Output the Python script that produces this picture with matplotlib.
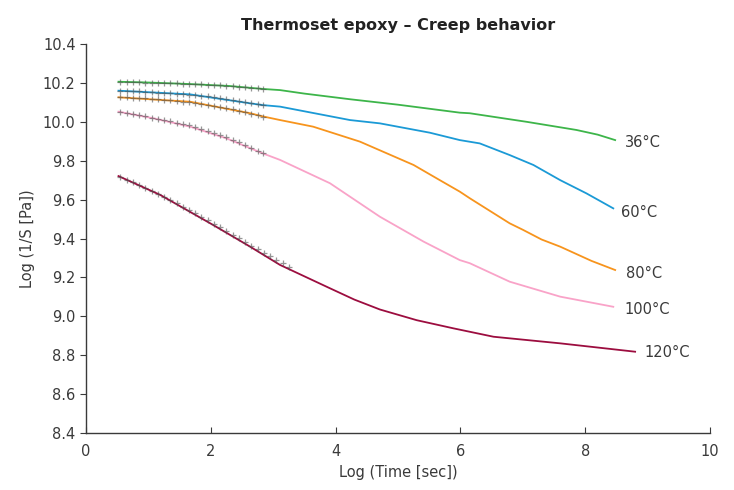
import matplotlib
matplotlib.use("Agg")
import matplotlib.pyplot as plt

plt.rcParams['font.family'] = ['DejaVu Sans']

title = "Thermoset epoxy – Creep behavior"
xlabel = "Log (Time [sec])"
ylabel = "Log (1/S [Pa])"
labels = ["36°C", "60°C", "80°C", "100°C", "120°C"]
colors = ["#3db54a", "#1b9ad6", "#f7941d", "#f9a3c8", "#9c0d3f"]

# fitted curves
x36 = [0.52, 1.0, 1.67, 2.3, 2.83, 3.11, 3.5, 4.23, 5.0, 5.99, 6.15, 7.06, 7.86, 8.2, 8.48]
y36 = [10.206, 10.202, 10.194, 10.184, 10.169, 10.163, 10.145, 10.116, 10.088, 10.047, 10.044, 10.000, 9.958, 9.934, 9.906]

x60 = [0.52, 1.67, 2.63, 2.83, 3.11, 4.23, 4.71, 5.51, 5.99, 6.31, 6.79, 7.17, 7.60, 8.02, 8.45]
y60 = [10.160, 10.141, 10.095, 10.086, 10.078, 10.009, 9.992, 9.944, 9.906, 9.889, 9.829, 9.778, 9.700, 9.632, 9.555]

x80 = [0.52, 1.67, 2.63, 2.83, 3.11, 3.64, 4.39, 5.25, 5.67, 5.99, 6.15, 6.79, 7.0, 7.3, 7.60, 8.1, 8.48]
y80 = [10.126, 10.103, 10.044, 10.028, 10.009, 9.975, 9.898, 9.778, 9.700, 9.641, 9.607, 9.478, 9.445, 9.395, 9.358, 9.285, 9.238]

x100 = [0.52, 1.08, 1.67, 2.25, 2.83, 3.11, 3.91, 4.71, 5.41, 5.99, 6.15, 6.79, 7.60, 8.45]
y100 = [10.052, 10.018, 9.975, 9.915, 9.838, 9.804, 9.684, 9.512, 9.384, 9.289, 9.273, 9.178, 9.101, 9.049]

x120 = [0.52, 1.19, 2.04, 2.63, 3.11, 3.91, 4.3, 4.71, 5.3, 5.89, 6.53, 7.60, 8.80]
y120 = [9.721, 9.624, 9.469, 9.358, 9.264, 9.144, 9.086, 9.035, 8.980, 8.938, 8.895, 8.861, 8.818]

# measured points
mx = [0.55, 0.65, 0.75, 0.85, 0.95, 1.05, 1.15, 1.25, 1.35, 1.45, 1.55, 1.65,
      1.75, 1.85, 1.95, 2.05, 2.15, 2.25, 2.35, 2.45, 2.55, 2.65, 2.75, 2.83]
m36 = [10.206, 10.205, 10.204, 10.203, 10.202, 10.201, 10.200, 10.199, 10.198, 10.197, 10.196, 10.195,
       10.193, 10.192, 10.190, 10.189, 10.187, 10.185, 10.183, 10.180, 10.178, 10.175, 10.172, 10.170]
m60 = [10.160, 10.159, 10.157, 10.156, 10.154, 10.152, 10.150, 10.148, 10.146, 10.144, 10.142, 10.140,
       10.137, 10.134, 10.131, 10.127, 10.123, 10.118, 10.113, 10.108, 10.102, 10.097, 10.091, 10.086]
m80 = [10.126, 10.125, 10.124, 10.122, 10.120, 10.118, 10.116, 10.113, 10.110, 10.107, 10.104, 10.100,
       10.096, 10.092, 10.087, 10.082, 10.076, 10.070, 10.064, 10.057, 10.050, 10.042, 10.034, 10.027]
m100 = [10.050, 10.045, 10.039, 10.034, 10.028, 10.022, 10.016, 10.010, 10.003, 9.996, 9.989, 9.981,
        9.972, 9.963, 9.953, 9.943, 9.932, 9.920, 9.907, 9.894, 9.880, 9.866, 9.852, 9.840]
mx120 = [0.55, 0.65, 0.75, 0.85, 0.95, 1.05, 1.15, 1.25, 1.35, 1.45, 1.55, 1.65, 1.75, 1.85,
         1.95, 2.05, 2.15, 2.25, 2.35, 2.45, 2.55, 2.65, 2.75, 2.85, 2.95, 3.05, 3.15, 3.25]
m120 = [9.716, 9.702, 9.688, 9.673, 9.659, 9.644, 9.629, 9.613, 9.597, 9.581, 9.564, 9.547, 9.530, 9.512,
        9.494, 9.476, 9.458, 9.439, 9.420, 9.401, 9.382, 9.363, 9.344, 9.326, 9.308, 9.290, 9.272, 9.256]

label_x = [8.64, 8.58, 8.65, 8.63, 8.95]
label_y = [9.893, 9.533, 9.221, 9.036, 8.813]

xticks = [0, 2, 4, 6, 8, 10]
yticks = [8.4, 8.6, 8.8, 9.0, 9.2, 9.4, 9.6, 9.8, 10.0, 10.2, 10.4]

fig = plt.figure(figsize=(7.34, 4.90), dpi=100)
ax = fig.add_axes([0.1172, 0.1163, 0.8501, 0.7939])

curves = [(x36, y36), (x60, y60), (x80, y80), (x100, y100), (x120, y120)]
for (xs, ys), c in zip(curves, colors):
    ax.plot(xs, ys, color=c, lw=1.3, zorder=2, solid_joinstyle='round')

marks = [(mx, m36), (mx, m60), (mx, m80), (mx, m100), (mx120, m120)]
for xs, ys in marks:
    ax.plot(xs, ys, ls='none', marker='+', ms=4, mew=0.9, color='#505050', alpha=0.6, zorder=3)

txt = '#3a3a3a'
for lab, lx, ly in zip(labels, label_x, label_y):
    ax.text(lx, ly, lab, fontsize=10.5, color=txt, ha='left', va='center')

ax.set_xlim(0, 10)
ax.set_ylim(8.4, 10.4)
ax.set_xticks(xticks)
ax.set_yticks(yticks)
ax.set_xticklabels([str(t) for t in xticks])
ax.set_yticklabels([f"{t:.1f}" for t in yticks])
ax.tick_params(axis='x', direction='in', length=4, colors='#3a3a3a', labelsize=10.5, pad=8)
ax.tick_params(axis='y', direction='out', length=4, colors='#3a3a3a', labelsize=10.5)
for s in ['top', 'right']:
    ax.spines[s].set_visible(False)
for s in ['left', 'bottom']:
    ax.spines[s].set_color('#3a3a3a')
    ax.spines[s].set_linewidth(1)

ax.set_xlabel(xlabel, fontsize=10.5, color=txt, labelpad=4)
ax.set_ylabel(ylabel, fontsize=10.5, color=txt, labelpad=6)
ax.set_title(title, fontsize=11.5, fontweight='bold', color='#222222', pad=10)

fig.savefig("out.png", dpi=100)
